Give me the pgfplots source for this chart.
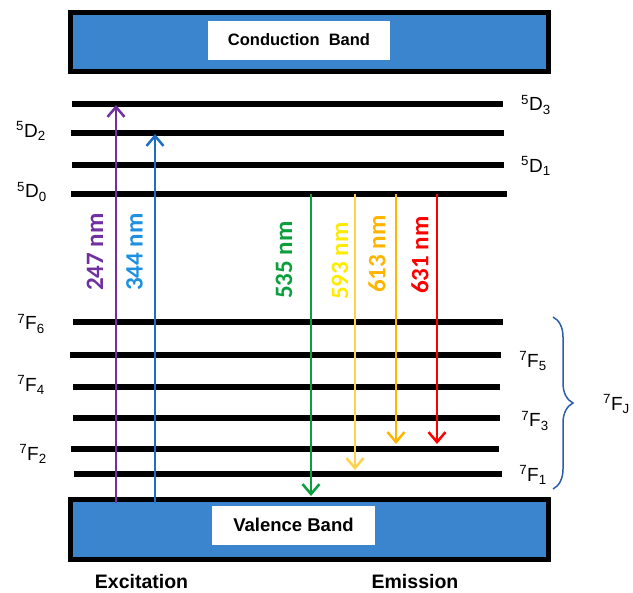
\documentclass[border=0pt]{standalone}
\usepackage{pgfplots}
\pgfplotsset{compat=1.18}
\usepackage{fontspec}
\setmainfont{Liberation Sans}
\newfontfamily\calib{Carlito}
\usetikzlibrary{arrows.meta,decorations.pathreplacing}
\definecolor{bandblue}{HTML}{3A85CD}
\definecolor{cpurple}{HTML}{7030A0}
\definecolor{cblue}{HTML}{1A6FC4}
\definecolor{lblue}{HTML}{1E90E0}
\definecolor{cgreen}{HTML}{0A9E3C}
\definecolor{lyellow}{HTML}{FFD24D}
\definecolor{tyellow}{HTML}{FFEB00}
\definecolor{corange}{HTML}{FFB400}
\definecolor{cred}{HTML}{FF0000}
\definecolor{bracecol}{HTML}{2E5DAA}
\begin{document}
\begin{tikzpicture}
\begin{axis}[
  scale only axis, width=633pt, height=591pt,
  xmin=0, xmax=633, ymin=0, ymax=591, y dir=reverse,
  hide axis, clip=false,
]
\addplot[draw=none] coordinates {(0,0) (633,591)};
% bands
\addplot[fill=bandblue, draw=black, line width=5pt] coordinates {(70.5,12.5) (548.5,12.5) (548.5,71.5) (70.5,71.5)} -- cycle;
\addplot[fill=white, draw=none] coordinates {(208,21) (390,21) (390,60) (208,60)} -- cycle;
\addplot[fill=bandblue, draw=black, line width=5pt] coordinates {(70.5,499.5) (548.5,499.5) (548.5,559.5) (70.5,559.5)} -- cycle;
\addplot[fill=white, draw=none] coordinates {(212,506) (375,506) (375,545) (212,545)} -- cycle;
% levels
\tikzset{lev/.style={black, line width=5.5pt}}
\addplot[lev] coordinates {(72,104) (503,104)};
\addplot[lev] coordinates {(71,133) (504,133)};
\addplot[lev] coordinates {(72,165) (504,165)};
\addplot[lev] coordinates {(71,194) (507,194)};
\addplot[lev] coordinates {(73,322) (503,322)};
\addplot[lev] coordinates {(70,355) (501,355)};
\addplot[lev] coordinates {(73,387) (500,387)};
\addplot[lev] coordinates {(73,418) (500,418)};
\addplot[lev] coordinates {(71,449) (499,449)};
\addplot[lev] coordinates {(74,474) (502,474)};
% arrows
\tikzset{arr/.style={line width=2.5pt, -{Straight Barb[length=10pt,width=17pt,line width=2.5pt]}}}
\addplot[cpurple, arr] coordinates {(116,503) (116,105)};
\addplot[cblue, arr] coordinates {(155,503) (155,134)};
\addplot[cgreen, arr] coordinates {(311,194) (311,496)};
\addplot[lyellow, arr] coordinates {(355,194) (355,470)};
\addplot[corange, arr] coordinates {(396,194) (396,444)};
\addplot[cred, arr] coordinates {(437,194) (437,444)};
% wavelength labels
\tikzset{wl/.style={rotate=90, font=\fontsize{25}{28}\selectfont\calib\bfseries, inner sep=0pt}}
\node[wl, text=cpurple] at (axis cs:95,252) {247 nm};
\node[wl, text=lblue] at (axis cs:134.5,252) {344 nm};
\node[wl, text=cgreen] at (axis cs:284,260) {535 nm};
\node[wl, text=tyellow] at (axis cs:340,261) {593 nm};
\node[wl, text=corange] at (axis cs:377,254) {613 nm};
\node[wl, text=cred] at (axis cs:420,255) {631 nm};
% band texts
\node[font=\fontsize{16.5}{19}\selectfont\bfseries] at (axis cs:299,40) {Conduction\ \ Band};
\node[font=\fontsize{18.5}{21}\selectfont\bfseries] at (axis cs:293.5,525) {Valence Band};
\node[font=\fontsize{19.5}{22}\selectfont\bfseries] at (axis cs:141.5,582) {Excitation};
\node[font=\fontsize{19.5}{22}\selectfont\bfseries] at (axis cs:415,582) {Emission};
% level labels
\tikzset{lab/.style={font=\fontsize{19}{22}\selectfont, inner sep=0pt}}
\node[lab] at (axis cs:536,105) {\textsuperscript{5}D\textsubscript{3}};
\node[lab] at (axis cs:31,131) {\textsuperscript{5}D\textsubscript{2}};
\node[lab] at (axis cs:536,166) {\textsuperscript{5}D\textsubscript{1}};
\node[lab] at (axis cs:32,192) {\textsuperscript{5}D\textsubscript{0}};
\node[lab] at (axis cs:31,324) {\textsuperscript{7}F\textsubscript{6}};
\node[lab] at (axis cs:533,361) {\textsuperscript{7}F\textsubscript{5}};
\node[lab] at (axis cs:31,385) {\textsuperscript{7}F\textsubscript{4}};
\node[lab] at (axis cs:535,421) {\textsuperscript{7}F\textsubscript{3}};
\node[lab] at (axis cs:33,454) {\textsuperscript{7}F\textsubscript{2}};
\node[lab] at (axis cs:533,475) {\textsuperscript{7}F\textsubscript{1}};
\node[lab, anchor=west] at (axis cs:603,404) {\textsuperscript{7}F\textsubscript{J}};
% brace
\draw[bracecol, line width=1.5pt, decorate, decoration={brace, amplitude=20pt, aspect=0.5}] (axis cs:553,317) -- (axis cs:553,489);
\end{axis}
\end{tikzpicture}
\end{document}
